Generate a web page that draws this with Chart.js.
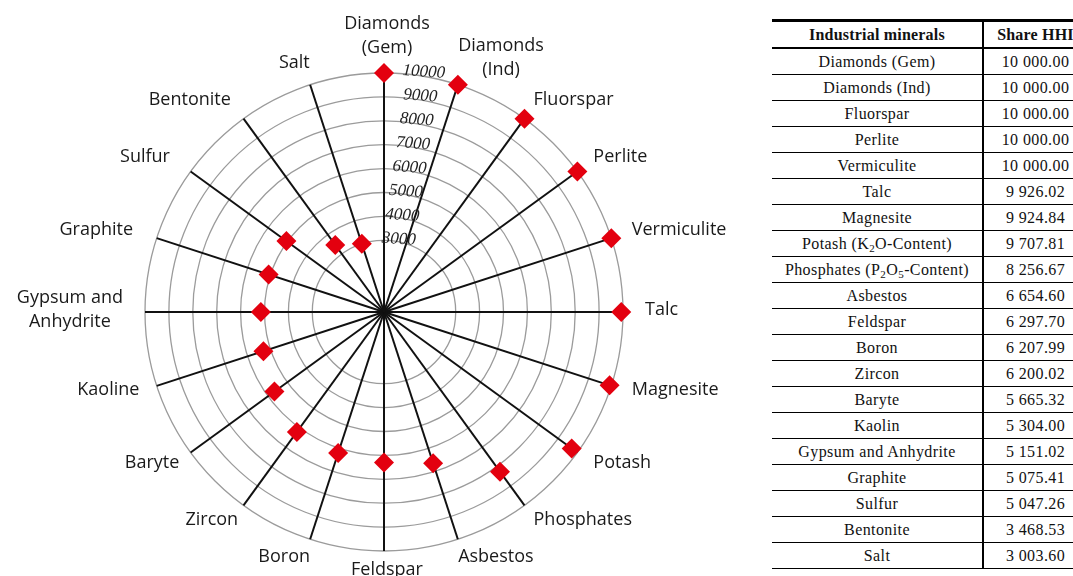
<!DOCTYPE html>
<html>
<head>
<meta charset="utf-8">
<script src="https://cdn.jsdelivr.net/npm/chart.js@4.4.1/dist/chart.umd.min.js"></script>
<style>
html,body{margin:0;padding:0;background:#fff;width:1073px;height:576px;overflow:hidden;position:relative;}
#wrap{position:absolute;left:0;top:0;width:770px;height:576px;}
#tbl{position:absolute;left:772px;top:19px;width:315px;border:0;border-collapse:collapse;font-family:"Liberation Serif","Times New Roman",serif;font-size:16px;color:#111;table-layout:fixed;}
#tbl th,#tbl td{padding:0;text-align:center;white-space:nowrap;letter-spacing:0.4px;border-left:0;border-right:0;}
#tbl th{font-weight:bold;height:25px;border-top:3px solid #000;border-bottom:2px solid #000;letter-spacing:0.2px;}
#tbl td{height:25px;border-bottom:1.5px solid #000;}
#tbl .c2{border-left:2px solid #000;}
sub{font-size:11px;vertical-align:-3px;line-height:0;}
</style>
</head>
<body>
<div id="wrap"><canvas id="c" width="770" height="576"></canvas></div>
<table id="tbl"><colgroup><col style="width:211px"><col style="width:104px"></colgroup><thead><tr id="th"></tr></thead><tbody id="tb"></tbody></table>
<script>
// ---- data ----
const categories = [["Diamonds","(Gem)"],["Diamonds","(Ind)"],"Fluorspar","Perlite","Vermiculite","Talc","Magnesite","Potash","Phosphates","Asbestos","Feldspar","Boron","Zircon","Baryte","Kaoline",["Gypsum and","Anhydrite"],"Graphite","Sulfur","Bentonite","Salt"];
const hhiValues = [10000,10000,10000,10000,10000,9926.02,9924.84,9707.81,8256.67,6654.60,6297.70,6207.99,6200.02,5665.32,5304.00,5151.02,5075.41,5047.26,3468.53,3003.60];
const tableMinerals = ["Diamonds (Gem)","Diamonds (Ind)","Fluorspar","Perlite","Vermiculite","Talc","Magnesite","Potash (K_2O-Content)","Phosphates (P_2O_5-Content)","Asbestos","Feldspar","Boron","Zircon","Baryte","Kaolin","Gypsum and Anhydrite","Graphite","Sulfur","Bentonite","Salt"];
const tickValues = [3000,4000,5000,6000,7000,8000,9000,10000];
const tableHeader = ["Industrial minerals","Share HHI"];

// ---- table ----
function fmt(v){
  const parts = v.toFixed(2).split('.');
  return parts[0].replace(/\B(?=(\d{3})+(?!\d))/g,' ') + '.' + parts[1];
}
const thr = document.getElementById('th');
tableHeader.forEach((h,i)=>{
  const th = document.createElement('th'); th.className = 'c'+(i+1); th.textContent = h; thr.appendChild(th);
});
const tb = document.getElementById('tb');
tableMinerals.forEach((m,i)=>{
  const tr = document.createElement('tr');
  const td1 = document.createElement('td'); td1.className='c1';
  td1.innerHTML = m.replace(/_(\d)/g,'<sub>$1</sub>');
  const td2 = document.createElement('td'); td2.className='c2';
  td2.textContent = fmt(hhiValues[i]);
  tr.appendChild(td1); tr.appendChild(td2); tb.appendChild(tr);
});

// ---- labels plugin ----
const labelPlugin = {
  id:'outerLabels',
  afterDraw(chart){
    const sc = chart.scales.r, ctx = chart.ctx;
    ctx.save();
    ctx.font = '18px "Open Sans"';
    ctx.fillStyle = '#1a1a1a';
    ctx.textBaseline = 'middle';
    ctx.textAlign = 'center';
    categories.forEach((lab,i)=>{
      const lines = Array.isArray(lab)?lab:[lab];
      const a = sc.getIndexAngle(i);
      const s = Math.sin(a), c = Math.cos(a);
      const p = sc.getPointPosition(i, sc.drawingArea);
      const lh = 23.5;
      const w = Math.max(...lines.map(l=>ctx.measureText(l).width));
      let gx = 22*Math.min(1, Math.max(0,(Math.abs(s)-0.3)/0.7));
      if (s < 0) gx *= (1 + 0.5*c);
      const dy = -c*(21 + (lines.length-1)*14*Math.pow(Math.abs(c),20)) - 2;
      let cx;
      if (Math.abs(s)<0.05) cx = p.x + 3;
      else if (s>0) cx = p.x + gx + w/2;
      else cx = p.x - gx - w/2;
      const cy = p.y + dy;
      lines.forEach((l,k)=> ctx.fillText(l, cx, cy + (k-(lines.length-1)/2)*lh));
    });
    // tick labels
    ctx.font = 'italic 17px "Liberation Serif"';
    ctx.fillStyle = '#222';
    tickValues.forEach(v=>{
      const d = sc.getDistanceFromCenterForValue(v);
      const x = sc.xCenter + 4 + 0.15*d;
      const y = sc.yCenter - d - 1;
      ctx.save();
      ctx.translate(x,y);
      ctx.rotate(4*Math.PI/180);
      ctx.fillText(String(v),0,0);
      ctx.restore();
    });
    ctx.restore();
  }
};

new Chart(document.getElementById('c'), {
  type:'radar',
  data:{
    labels:categories,
    datasets:[{
      data:hhiValues,
      borderColor:'rgba(0,0,0,0)',
      backgroundColor:'rgba(0,0,0,0)',
      borderWidth:0,
      fill:false,
      pointStyle:'rectRot',
      pointRadius:10,
      pointHoverRadius:10,
      pointBackgroundColor:'#e3000f',
      pointBorderColor:'#e3000f',
      pointBorderWidth:0
    }]
  },
  options:{
    responsive:false,
    animation:false,
    devicePixelRatio:1,
    layout:{padding:{left:145,top:73,right:147,bottom:25}},
    plugins:{legend:{display:false},tooltip:{enabled:false}},
    scales:{
      r:{
        min:0,max:10000,
        ticks:{display:false,stepSize:1000},
        grid:{circular:true,lineWidth:1.3,color:(ctx)=> (ctx.tick && ctx.tick.value>=3000)?'#9b9b9b':'rgba(0,0,0,0)'},
        angleLines:{color:'#111',lineWidth:2},
        pointLabels:{display:false}
      }
    }
  },
  plugins:[labelPlugin]
});
</script>
</body>
</html>
